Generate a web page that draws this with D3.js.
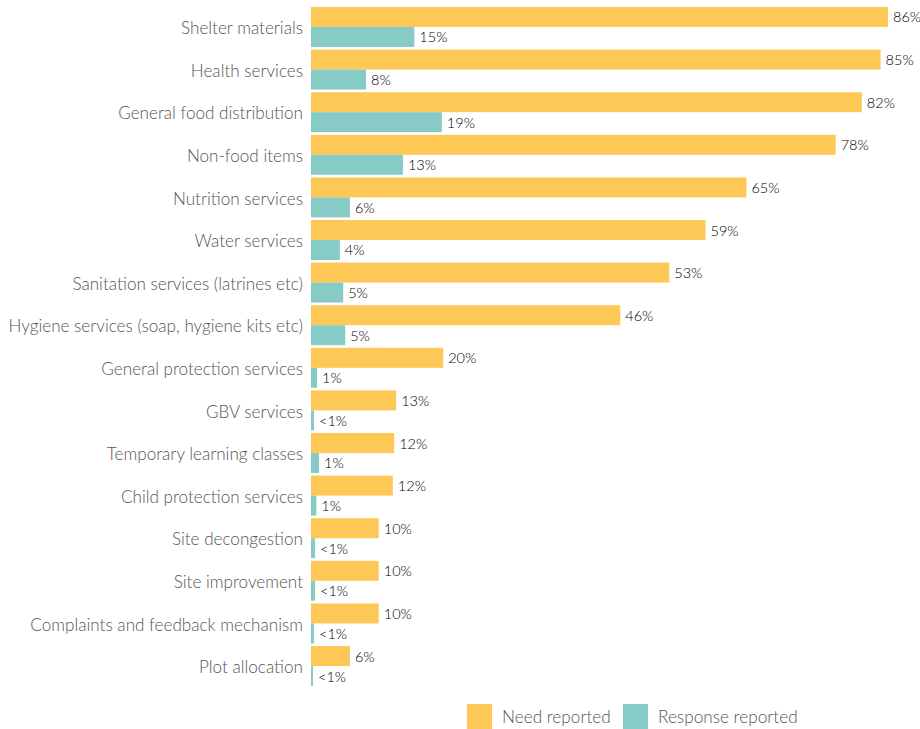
<!DOCTYPE html>
<html>
<head>
<meta charset="utf-8">
<script src="https://cdn.jsdelivr.net/npm/d3@7"></script>
<style>
  html, body { margin: 0; padding: 0; background: #fff; }
  svg { display: block; }
</style>
</head>
<body>
<svg id="chart" width="920" height="729"></svg>
<script>
const categories = [
  "Shelter materials", "Health services", "General food distribution", "Non-food items",
  "Nutrition services", "Water services", "Sanitation services (latrines etc)",
  "Hygiene services (soap, hygiene kits etc)", "General protection services", "GBV services",
  "Temporary learning classes", "Child protection services", "Site decongestion",
  "Site improvement", "Complaints and feedback mechanism", "Plot allocation"
];
const needValues = [86, 84.9, 82.1, 78.2, 64.9, 58.8, 53.4, 46.1, 19.7, 12.7, 12.4, 12.2, 10.1, 10.1, 10.1, 5.8];
const needLabels = ["86%", "85%", "82%", "78%", "65%", "59%", "53%", "46%", "20%", "13%", "12%", "12%", "10%", "10%", "10%", "6%"];
const responseValues = [15.4, 8.2, 19.5, 13.7, 5.8, 4.3, 4.8, 5.1, 0.9, 0.45, 1.2, 0.8, 0.6, 0.6, 0.45, 0.3];
const responseLabels = ["15%", "8%", "19%", "13%", "6%", "4%", "5%", "5%", "1%", "<1%", "1%", "1%", "<1%", "<1%", "<1%", "<1%"];
const seriesNames = ["Need reported", "Response reported"];
const colors = ["#FEC857", "#86CBC5"];

const svg = d3.select("#chart");
const FONT = "Lato, 'Open Sans', sans-serif";

const x = d3.scaleLinear().domain([0, 86]).range([311, 888]);
const y = d3.scaleBand().domain(categories).range([7, 686]).paddingInner(0.0625).paddingOuter(0);
const sub = d3.scaleBand().domain(seriesNames).range([0, y.bandwidth()]);

const data = categories.map((c, i) => ({
  cat: c,
  vals: [
    { s: seriesNames[0], v: needValues[i], l: needLabels[i] },
    { s: seriesNames[1], v: responseValues[i], l: responseLabels[i] }
  ]
}));

const g = svg.selectAll("g.grp").data(data).enter().append("g")
  .attr("class", "grp")
  .attr("transform", d => `translate(0,${y(d.cat)})`);

g.selectAll("rect").data(d => d.vals).enter().append("rect")
  .attr("x", x(0))
  .attr("y", d => sub(d.s))
  .attr("width", d => x(d.v) - x(0))
  .attr("height", sub.bandwidth())
  .attr("fill", (d, i) => colors[i]);

g.selectAll("text.val").data(d => d.vals).enter().append("text")
  .attr("class", "val")
  .attr("x", d => x(d.v) + 5)
  .attr("y", d => sub(d.s) + sub.bandwidth() / 2)
  .attr("dy", "0.38em")
  .attr("font-family", FONT)
  .attr("font-weight", 300)
  .attr("font-size", 14.5)
  .attr("fill", "#000")
  .text(d => d.l);

// Category axis
const yAxis = d3.axisLeft(y).tickSize(0).tickPadding(8);
const ax = svg.append("g").attr("transform", `translate(${x(0)},0)`).call(yAxis);
ax.select(".domain").remove();
ax.selectAll("text")
  .attr("dy", "0.42em")
  .attr("font-family", FONT)
  .attr("font-weight", 300)
  .attr("font-size", 17.1)
  .attr("fill", "#555");

// Legend
const legend = svg.append("g").attr("transform", "translate(467,704)");
const items = [{ n: seriesNames[0], x: 0 }, { n: seriesNames[1], x: 156 }];
items.forEach((it, i) => {
  legend.append("rect").attr("x", it.x).attr("y", 0).attr("width", 25).attr("height", 25).attr("fill", colors[i]);
  legend.append("text").attr("x", it.x + 35).attr("y", 12.5).attr("dy", "0.38em")
    .attr("font-family", FONT).attr("font-weight", 300).attr("font-size", 17.2).attr("fill", "#555").text(it.n);
});
</script>
</body>
</html>
